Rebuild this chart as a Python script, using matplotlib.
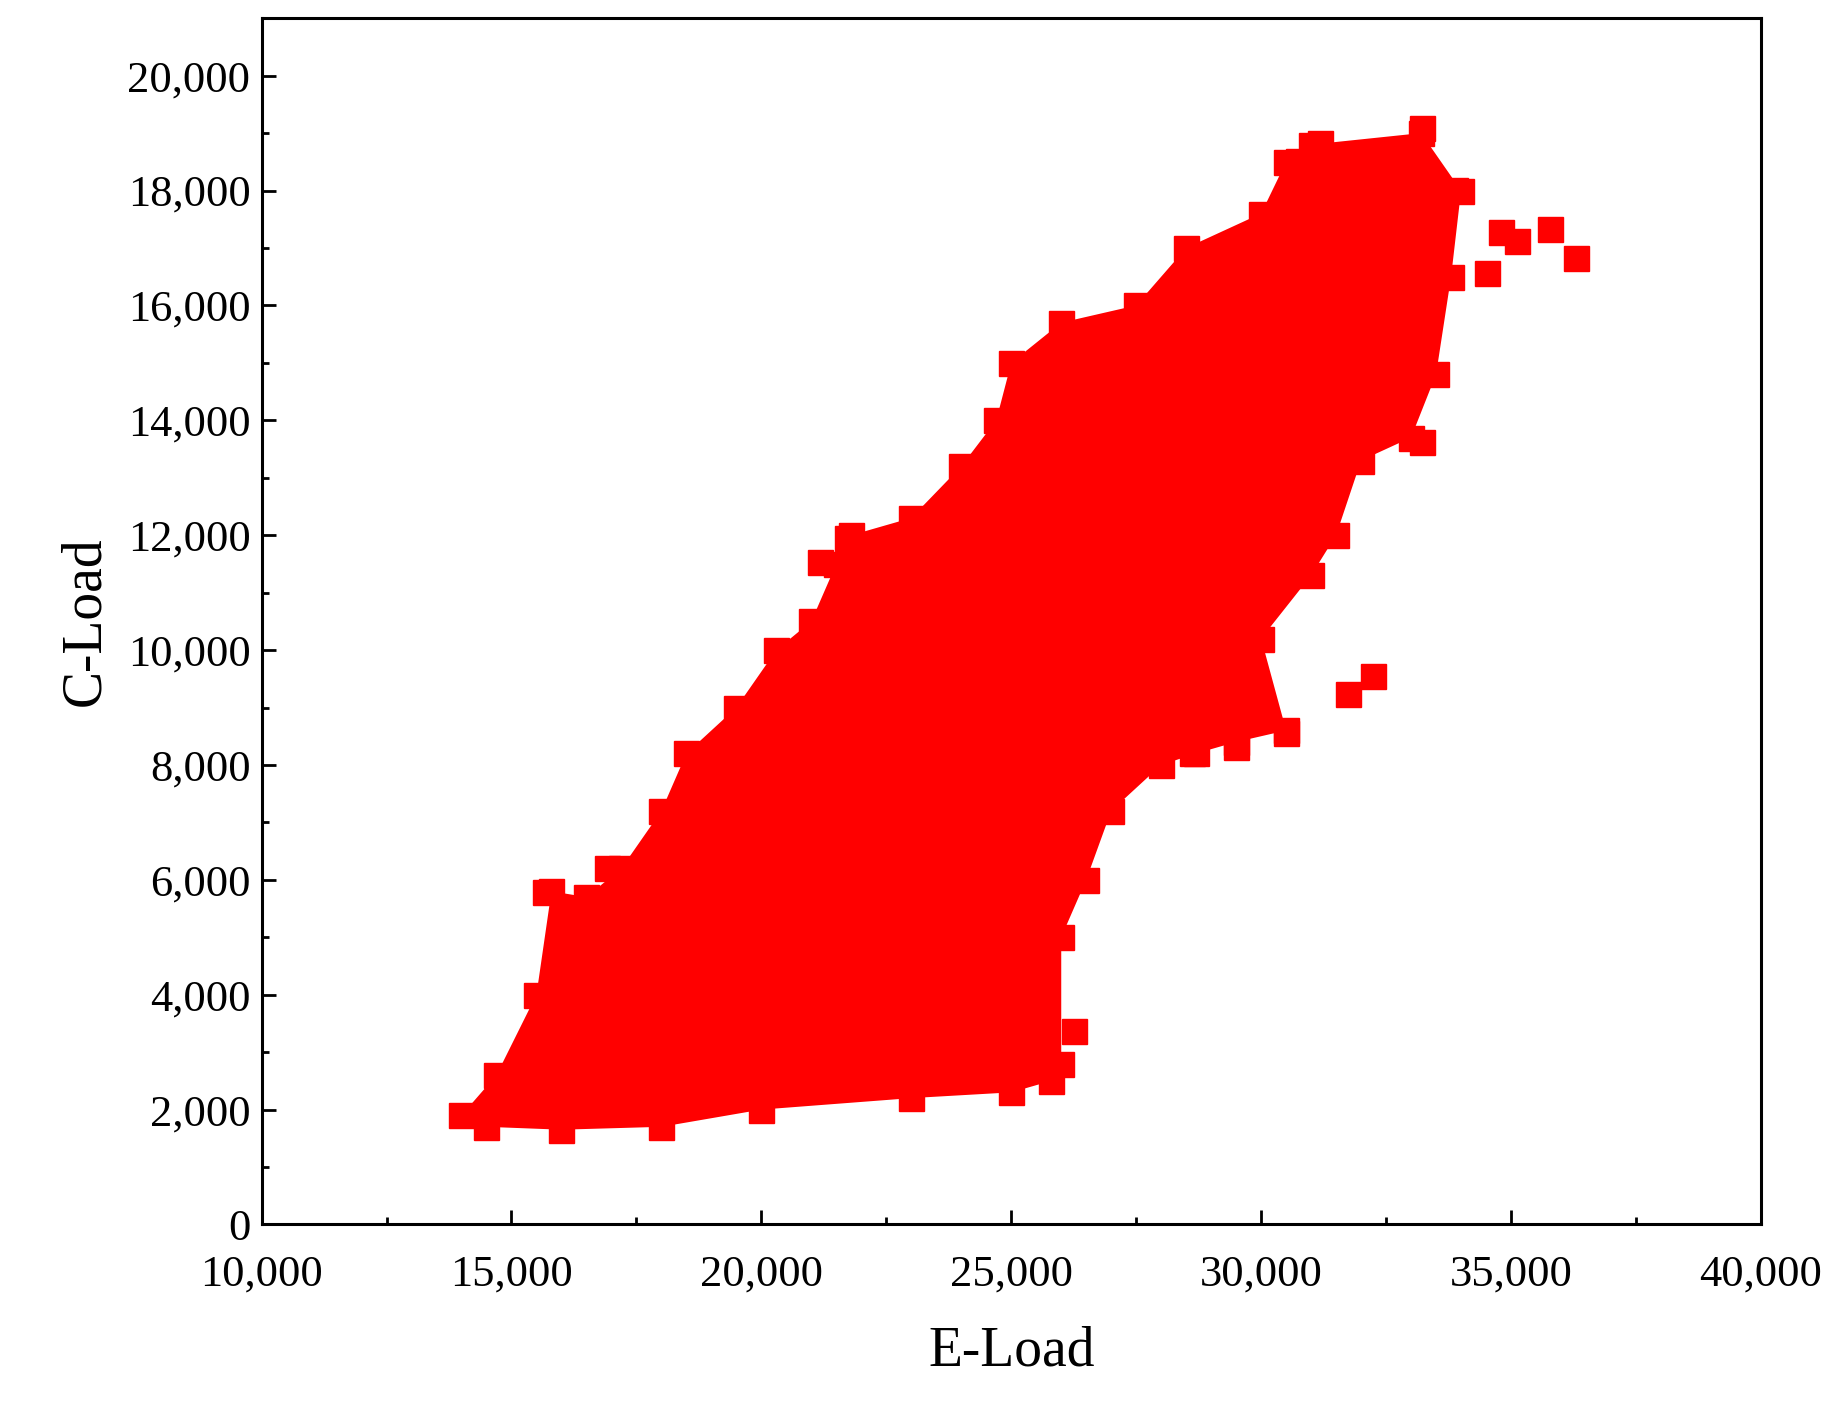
import matplotlib.pyplot as plt
from matplotlib.ticker import FuncFormatter, MultipleLocator

# outline of the dense cloud (E-Load, C-Load)
cloud_e = [14000, 14500, 16000, 18000, 20000, 23000, 25000, 25800, 26000, 26000,
           26500, 27000, 28000, 28700, 29500, 30500, 30000, 31000, 31500, 32000,
           33000, 33500, 33800, 34000, 33200, 31000, 30500, 30000, 28500, 27500,
           26000, 25000, 24700, 24000, 23000, 21800, 21500, 21000, 20300, 19500,
           18500, 18000, 17200, 16500, 15800, 15500, 14700]
cloud_c = [1900, 1700, 1650, 1700, 2000, 2200, 2300, 2500, 2800, 5000,
           6000, 7200, 8000, 8200, 8400, 8600, 10200, 11300, 12000, 13300,
           13700, 14800, 16500, 18000, 19000, 18800, 18500, 17600, 17000, 16000,
           15700, 15000, 14000, 13200, 12300, 12000, 11500, 10500, 10000, 9000,
           8200, 7200, 6200, 5700, 5800, 4000, 2600]

# isolated points at the edge of the cloud
out_e = [34520, 34800, 35110, 35770, 36290, 31170, 30740, 32000, 33220, 28620,
         29490, 30500, 31730, 32230, 26250, 21720, 21170, 15670, 16920, 33880, 33220]
out_c = [16570, 17270, 17130, 17330, 16820, 18830, 18520, 18500, 19080, 8210,
         8320, 8560, 9240, 9550, 3370, 11950, 11540, 5790, 6200, 18010, 13630]

plt.rcParams['font.family'] = ['Liberation Serif', 'DejaVu Serif']
fig = plt.figure(figsize=(18.42, 14.01), dpi=100)
ax = fig.add_axes([0.142, 0.126, 0.814, 0.861])

red = '#ff0000'
ax.fill(cloud_e, cloud_c, color=red, lw=0, zorder=2)
ax.plot(cloud_e, cloud_c, 's', color=red, ms=18, zorder=3)
ax.plot(out_e, out_c, 's', color=red, ms=18, zorder=3)

ax.set_xlim(10000, 40000)
ax.set_ylim(0, 21000)
ax.xaxis.set_major_locator(MultipleLocator(5000))
ax.xaxis.set_minor_locator(MultipleLocator(2500))
ax.yaxis.set_major_locator(MultipleLocator(2000))
ax.yaxis.set_minor_locator(MultipleLocator(1000))
fmt = FuncFormatter(lambda v, p: f"{int(v):,}")
ax.xaxis.set_major_formatter(fmt)
ax.yaxis.set_major_formatter(fmt)
ax.tick_params(which='both', direction='in', labelsize=32, width=2, top=False, right=False)
ax.tick_params(which='major', length=10)
ax.tick_params(which='minor', length=5)
ax.tick_params(axis='x', pad=22)
ax.tick_params(axis='y', pad=8)
for s in ax.spines.values():
    s.set_linewidth(2.2)
ax.set_xlabel('E-Load', fontsize=40, labelpad=22)
ax.set_ylabel('C-Load', fontsize=40, labelpad=12)

fig.savefig('out.png', dpi=100)
